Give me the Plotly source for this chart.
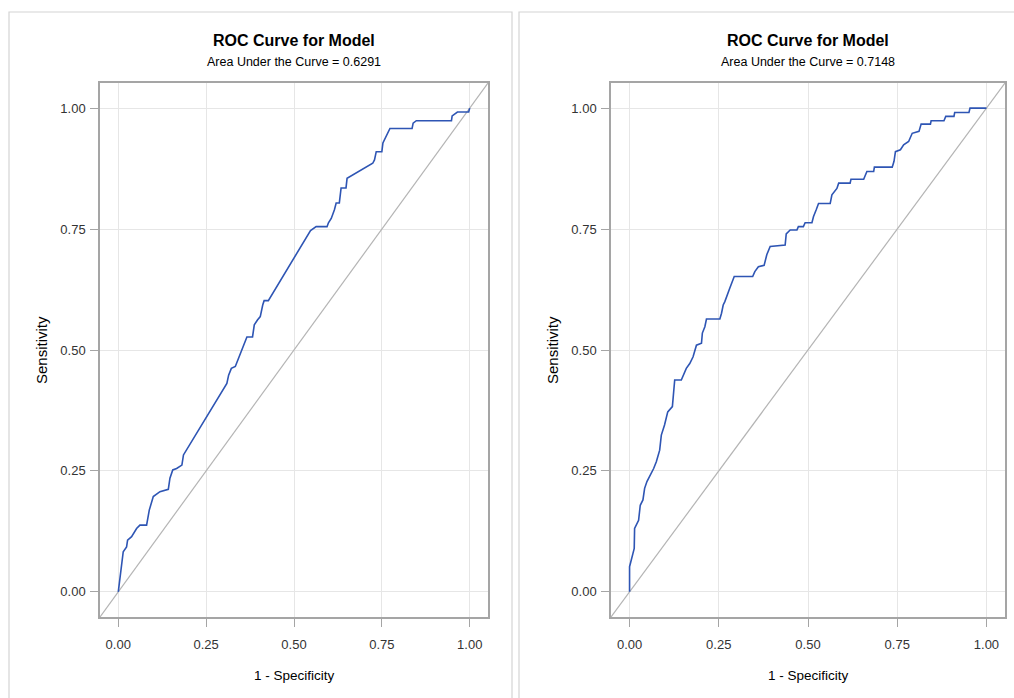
import plotly.graph_objects as go

W, H = 1014, 698

# ---- data ----
fpr_model1 = [0.0, 0.0066, 0.0094, 0.0141, 0.0236, 0.0265, 0.0379, 0.0521, 0.0616, 0.0806, 0.0882,
              0.0996, 0.1186, 0.1424, 0.147, 0.155, 0.166, 0.181, 0.1855, 0.309, 0.314, 0.3217,
              0.333, 0.366, 0.382, 0.387, 0.396, 0.404, 0.411, 0.415, 0.427, 0.547, 0.563,
              0.594, 0.598, 0.606, 0.615, 0.62, 0.629, 0.634, 0.648, 0.651, 0.724, 0.729,
              0.734, 0.750, 0.753, 0.762, 0.773, 0.836, 0.839, 0.848, 0.948, 0.95, 0.965,
              0.997, 1.0]
tpr_model1 = [0.0, 0.038, 0.066, 0.083, 0.093, 0.107, 0.114, 0.131, 0.138, 0.138, 0.169,
              0.197, 0.207, 0.212, 0.235, 0.252, 0.255, 0.262, 0.283, 0.431, 0.448, 0.462,
              0.466, 0.527, 0.527, 0.552, 0.562, 0.569, 0.593, 0.602, 0.602, 0.747, 0.755,
              0.755, 0.763, 0.772, 0.79, 0.804, 0.804, 0.835, 0.835, 0.855, 0.886, 0.893,
              0.91, 0.91, 0.928, 0.942, 0.958, 0.958, 0.969, 0.974, 0.974, 0.984, 0.992,
              0.992, 1.0]

fpr_model2 = [0.0, 0.0, 0.0094, 0.0131, 0.0141, 0.0253, 0.0300, 0.0375, 0.0422, 0.0487, 0.0675,
              0.075, 0.0844, 0.089, 0.098, 0.107, 0.120, 0.1265, 0.145, 0.150, 0.159, 0.1687,
              0.178, 0.1874, 0.2015, 0.204, 0.211, 0.2155, 0.253, 0.2577, 0.2624, 0.267,
              0.2765, 0.281, 0.2933, 0.345, 0.351, 0.361, 0.377, 0.3845, 0.394, 0.436, 0.439,
              0.450, 0.469, 0.473, 0.487, 0.492, 0.511, 0.5155, 0.523, 0.5295, 0.5622, 0.567,
              0.581, 0.586, 0.618, 0.6204, 0.656, 0.661, 0.665, 0.684, 0.686, 0.736, 0.741,
              0.745, 0.759, 0.768, 0.782, 0.792, 0.811, 0.817, 0.843, 0.845, 0.881, 0.886,
              0.909, 0.911, 0.951, 0.954, 1.0]
tpr_model2 = [0.0, 0.052, 0.079, 0.090, 0.131, 0.148, 0.179, 0.190, 0.214, 0.228, 0.255,
              0.269, 0.293, 0.324, 0.345, 0.372, 0.383, 0.438, 0.438, 0.448, 0.462, 0.472,
              0.486, 0.510, 0.514, 0.535, 0.548, 0.564, 0.564, 0.576, 0.593, 0.600,
              0.617, 0.628, 0.652, 0.652, 0.662, 0.672, 0.675, 0.697, 0.714, 0.717, 0.740,
              0.748, 0.748, 0.755, 0.755, 0.763, 0.763, 0.776, 0.790, 0.803, 0.803, 0.821,
              0.834, 0.845, 0.845, 0.853, 0.853, 0.862, 0.869, 0.869, 0.878, 0.878, 0.890,
              0.910, 0.914, 0.924, 0.931, 0.948, 0.952, 0.967, 0.967, 0.974, 0.974, 0.983,
              0.983, 0.991, 0.991, 1.0, 1.0]

auc_values = ["0.6291", "0.7148"]
tick_vals = [0.0, 0.25, 0.5, 0.75, 1.0]
tick_text = ["0.00", "0.25", "0.50", "0.75", "1.00"]

# ---- layout geometry (pixels) ----
panels = [
    dict(x0=100, x1=488, frame=(9, 512)),
    dict(x0=611, x1=1005, frame=(519, 1030)),
]
plot_top, plot_bot = 83, 617
RNG = [-0.052, 1.052]

FONT = "Liberation Sans, Arial, sans-serif"
CURVE = "#2E55B4"
GRID = "#E6E6E6"
FRAME = "#A5A5A5"

fig = go.Figure()
curves = [(fpr_model1, tpr_model1), (fpr_model2, tpr_model2)]

for i, (fx, ty) in enumerate(curves):
    xa = "x" if i == 0 else "x2"
    ya = "y" if i == 0 else "y2"
    fig.add_trace(go.Scatter(x=RNG, y=RNG, mode="lines",
                             line=dict(color="#B4B4B4", width=1.2), xaxis=xa, yaxis=ya,
                             hoverinfo="skip", showlegend=False))
    fig.add_trace(go.Scatter(x=fx, y=ty, mode="lines",
                             line=dict(color=CURVE, width=1.6), xaxis=xa, yaxis=ya,
                             showlegend=False))

axis_common = dict(range=RNG, tickvals=tick_vals, ticktext=tick_text, showgrid=True,
                   gridcolor=GRID, gridwidth=1.2, zeroline=False, showline=True, mirror=True,
                   linecolor=FRAME, linewidth=1.5, ticks="outside", ticklen=8, tickcolor=FRAME,
                   tickwidth=1, tickfont=dict(family=FONT, size=13, color="#333333"),
                   fixedrange=True)

layout = dict(width=W, height=H, margin=dict(l=0, r=0, t=0, b=0),
              paper_bgcolor="white", plot_bgcolor="white", showlegend=False)

ydom = [(H - plot_bot) / H, (H - plot_top) / H]
for i, p in enumerate(panels):
    sfx = "" if i == 0 else "2"
    layout["xaxis" + sfx] = dict(axis_common, domain=[p["x0"] / W, p["x1"] / W],
                                 anchor="y" + sfx, ticklabelstandoff=7)
    layout["yaxis" + sfx] = dict(axis_common, domain=ydom, anchor="x" + sfx,
                                 ticklabelstandoff=2)

fig.update_layout(**layout)

shapes = []
annotations = []
for i, p in enumerate(panels):
    fx0, fx1 = p["frame"]
    shapes.append(dict(type="rect", xref="paper", yref="paper",
                       x0=fx0 / W, x1=fx1 / W, y0=-0.05, y1=(H - 12) / H,
                       line=dict(color="#D4D4D4", width=1.2), layer="below"))
    cx = (p["x0"] + p["x1"]) / 2
    annotations.append(dict(text="<b>ROC Curve for Model</b>", x=cx / W, y=(H - 40) / H,
                            xref="paper", yref="paper", showarrow=False,
                            xanchor="center", yanchor="middle",
                            font=dict(family=FONT, size=16, color="#000000")))
    annotations.append(dict(text="Area Under the Curve = " + auc_values[i], x=cx / W,
                            y=(H - 62) / H, xref="paper", yref="paper", showarrow=False,
                            xanchor="center", yanchor="middle",
                            font=dict(family=FONT, size=12.5, color="#000000")))
    annotations.append(dict(text="1 - Specificity", x=cx / W, y=(H - 675) / H,
                            xref="paper", yref="paper", showarrow=False,
                            xanchor="center", yanchor="middle",
                            font=dict(family=FONT, size=13.5, color="#000000")))
    annotations.append(dict(text="Sensitivity", x=(p["x0"] - 59) / W,
                            y=(H - (plot_top + plot_bot) / 2) / H,
                            xref="paper", yref="paper", showarrow=False, textangle=-90,
                            xanchor="center", yanchor="middle",
                            font=dict(family=FONT, size=15, color="#000000")))

fig.update_layout(shapes=shapes, annotations=annotations)
fig.write_html("out.html", config={"displayModeBar": False},
               post_script="document.body.style.margin='0';document.body.style.overflow='hidden';")
